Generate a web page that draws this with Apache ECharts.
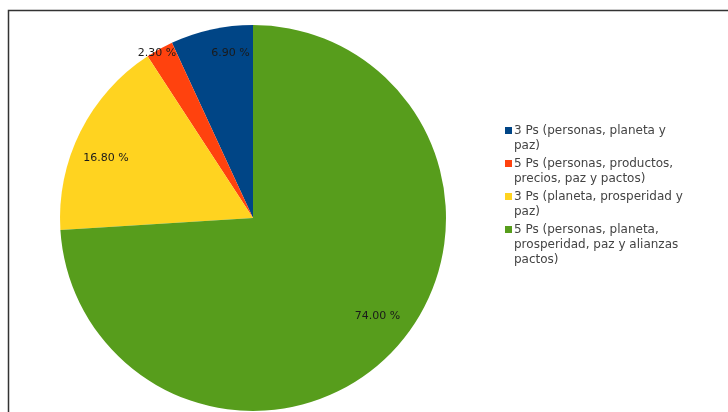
<!DOCTYPE html>
<html>
<head>
<meta charset="utf-8">
<script src="https://cdn.jsdelivr.net/npm/echarts@6/dist/echarts.min.js"></script>
<style>html,body{margin:0;padding:0;background:#fff}#c{width:728px;height:412px}</style>
</head>
<body>
<div id="c"></div>
<script>
var categories = [
  "3 Ps (personas, planeta y\npaz)",
  "5 Ps (personas, productos,\nprecios, paz y pactos)",
  "3 Ps (planeta, prosperidad y\npaz)",
  "5 Ps (personas, planeta,\nprosperidad, paz y alianzas\npactos)"
];
var values = [6.9, 2.3, 16.8, 74.0];
var colors = ["#004586", "#ff420e", "#ffd320", "#579d1c"];
// small label nudges (style only)
var labelNudges = [[12, -8], [-18, -24], [-3, 12], [7, -12]];

var chart = echarts.init(document.getElementById('c'));
var pieData = categories.map(function (n, i) {
  return { name: n, value: values[i], itemStyle: { color: colors[i] } };
});
var labelData = categories.map(function (n, i) {
  return { name: n, value: values[i], label: { offset: labelNudges[i] } };
});
var rich = {
  t: { fontFamily: 'DejaVu Sans', fontSize: 12, lineHeight: 15, color: '#444' },
  s: { width: 9, height: 7 }
};
colors.forEach(function (c, i) {
  rich['m' + i] = { width: 7, height: 7, backgroundColor: c };
  rich['g' + i] = { width: 2, height: 7 };
});
chart.setOption({
  animation: false,
  backgroundColor: '#fff',
  graphic: [
    { type: 'polyline', shape: { points: [[8.5, 412], [8.5, 10.5], [728, 10.5]] }, style: { stroke: '#333', lineWidth: 1.5, fill: null } }
  ],
  legend: {
    orient: 'vertical',
    left: 500,
    top: 118,
    itemWidth: 0,
    itemHeight: 7,
    itemGap: 3,
    icon: 'none',
    data: categories,
    formatter: function (name) {
      var i = categories.indexOf(name);
      var lines = name.split('\n');
      return lines.map(function (l, k) {
        return (k === 0 ? '{m' + i + '|}{g' + i + '|}' : '{s|}') + '{t|' + l + '}';
      }).join('\n');
    },
    textStyle: { fontFamily: 'DejaVu Sans', fontSize: 12, lineHeight: 15, color: '#444', padding: [0, 0, 0, -5], rich: rich }
  },
  series: [
    {
      type: 'pie',
      center: [253, 218],
      radius: [0, 193],
      startAngle: 90,
      clockwise: false,
      silent: true,
      label: { show: false },
      labelLine: { show: false },
      data: pieData
    },
    {
      type: 'pie',
      center: [253, 218],
      radius: [0, 316],
      startAngle: 90,
      clockwise: false,
      silent: true,
      legendHoverLink: false,
      itemStyle: { color: 'rgba(0,0,0,0)' },
      label: {
        show: true,
        position: 'inside',
        fontFamily: 'DejaVu Sans',
        fontSize: 11,
        color: '#1a1a1a',
        formatter: function (p) { return p.value.toFixed(2) + ' %'; }
      },
      labelLine: { show: false },
      data: labelData
    }
  ]
});
</script>
</body>
</html>
